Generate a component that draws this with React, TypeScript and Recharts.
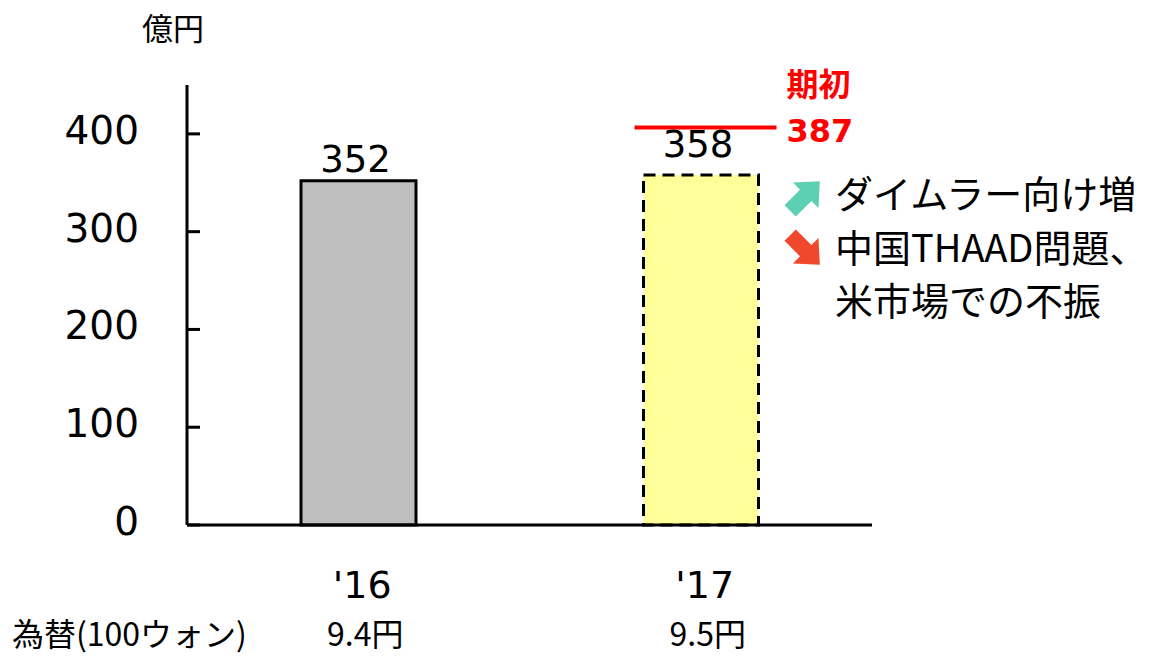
import { BarChart, Bar, XAxis, YAxis, Cell, LabelList } from "recharts";

// values
const categories = ["'16", "'17"];
const sales = [352, 358];
const initialPlan: (number | null)[] = [null, 387];
const fxRates = ["9.4円", "9.5円"];
const yTicks = [0, 100, 200, 300, 400];

const barFills = ["#BFBFBF", "#FFFF99"];
const barDashes = ["0", "12 7"];

const data = categories.map((year, i) => ({
  year,
  sales: sales[i],
  initial: initialPlan[i],
  fx: fxRates[i],
}));

const jp = "'Noto Sans CJK JP', sans-serif";
const latin = "'DejaVu Sans', sans-serif";

const YTick = (props: any) => {
  const { x, y, payload } = props;
  return (
    <g>
      <line x1={x} x2={x + 13} y1={y} y2={y} stroke="#000" strokeWidth={3} />
      <text x={x - 48} y={y + 10} textAnchor="end" fontFamily={latin} fontSize={39} fill="#000">
        {payload.value}
      </text>
    </g>
  );
};

const XTick = (props: any) => {
  const { x, y, payload, index } = props;
  return (
    <g>
      <text x={x + 4} y={y + 73} textAnchor="middle" fontFamily={latin} fontSize={38} fill="#000">
        {payload.value}
      </text>
      <text x={x + 7} y={y + 121} textAnchor="middle" fontFamily={jp} fontSize={32} fill="#000">
        {data[index]?.fx}
      </text>
    </g>
  );
};

// the plan marker sits just above the bar label, as in the original slide
const PlanLine = (props: any) => {
  const { x, y, width, value } = props;
  if (value == null || y == null) return null;
  const ly = y - 19;
  return (
    <line x1={x - 9} x2={x + width + 18} y1={ly} y2={ly} stroke="#FF0000" strokeWidth={4} />
  );
};

const PlanLabel = (props: any) => {
  const { x, y, width, value } = props;
  if (value == null) return null;
  const lx = x + width + 28;
  const ly = y - 19;
  return (
    <g>
      <text x={lx} y={ly - 32} fontFamily={jp} fontWeight="bold" fontSize={32} fill="#FF0000">
        期初
      </text>
      <text x={lx} y={ly + 14} fontFamily={latin} fontWeight="bold" fontSize={32} fill="#FF0000">
        {value}
      </text>
    </g>
  );
};

const labelLift = [9, 18];
const SalesLabel = (props: any) => {
  const { x, y, width, value, index } = props;
  return (
    <text
      x={x + width / 2 - 3}
      y={y - labelLift[index ?? 0]}
      textAnchor="middle"
      fontFamily={latin}
      fontSize={37}
      fill="#000"
    >
      {value}
    </text>
  );
};

const arrowPts = "0,-8 22,-8 22,-18 42,0 22,18 22,8 0,8";

export default function App() {
  return (
    <div style={{ position: "absolute", left: 0, top: 0, width: 1162, height: 657, background: "#fff" }}>
      <BarChart
        width={1162}
        height={657}
        data={data}
        margin={{ top: 85, right: 290, bottom: 72, left: 87 }}
      >
        <XAxis
          xAxisId="main"
          dataKey="year"
          height={60}
          axisLine={{ stroke: "#000", strokeWidth: 3 }}
          tickLine={false}
          tickSize={0}
          tickMargin={0}
          tick={<XTick />}
          interval={0}
        />
        <XAxis xAxisId="plan" dataKey="year" hide />
        <YAxis
          width={100}
          domain={[0, 450]}
          ticks={yTicks}
          axisLine={{ stroke: "#000", strokeWidth: 3 }}
          tickLine={false}
          tickSize={0}
          tickMargin={0}
          tick={<YTick />}
          interval={0}
        />
        <Bar xAxisId="main" dataKey="sales" barSize={115} isAnimationActive={false}>
          {data.map((d, i) => (
            <Cell
              key={d.year}
              fill={barFills[i]}
              stroke="#000"
              strokeWidth={3}
              strokeDasharray={barDashes[i]}
            />
          ))}
          <LabelList dataKey="sales" content={<SalesLabel />} />
        </Bar>
        <Bar xAxisId="plan" dataKey="initial" barSize={115} shape={<PlanLine />} isAnimationActive={false}>
          <LabelList dataKey="initial" content={<PlanLabel />} />
        </Bar>

        <text x={142} y={40} fontFamily={jp} fontSize={31} fill="#000">
          億円
        </text>
        <text x={12} y={646} fontFamily={jp} fontSize={32} fill="#000">
          為替(100ウォン)
        </text>

        <polygon points={arrowPts} fill="#5DCFB2" transform="translate(805 196) rotate(-45) translate(-21 0)" />
        <polygon points={arrowPts} fill="#F0482B" transform="translate(805 250) rotate(45) translate(-21 0)" />
        <text x={835} y={208} fontFamily={jp} fontSize={38} fill="#000">
          ダイムラー向け増
        </text>
        <text x={835} y={262} fontFamily={jp} fontSize={38} fill="#000">
          中国THAAD問題、
        </text>
        <text x={835} y={315} fontFamily={jp} fontSize={38} fill="#000">
          米市場での不振
        </text>
      </BarChart>
    </div>
  );
}
